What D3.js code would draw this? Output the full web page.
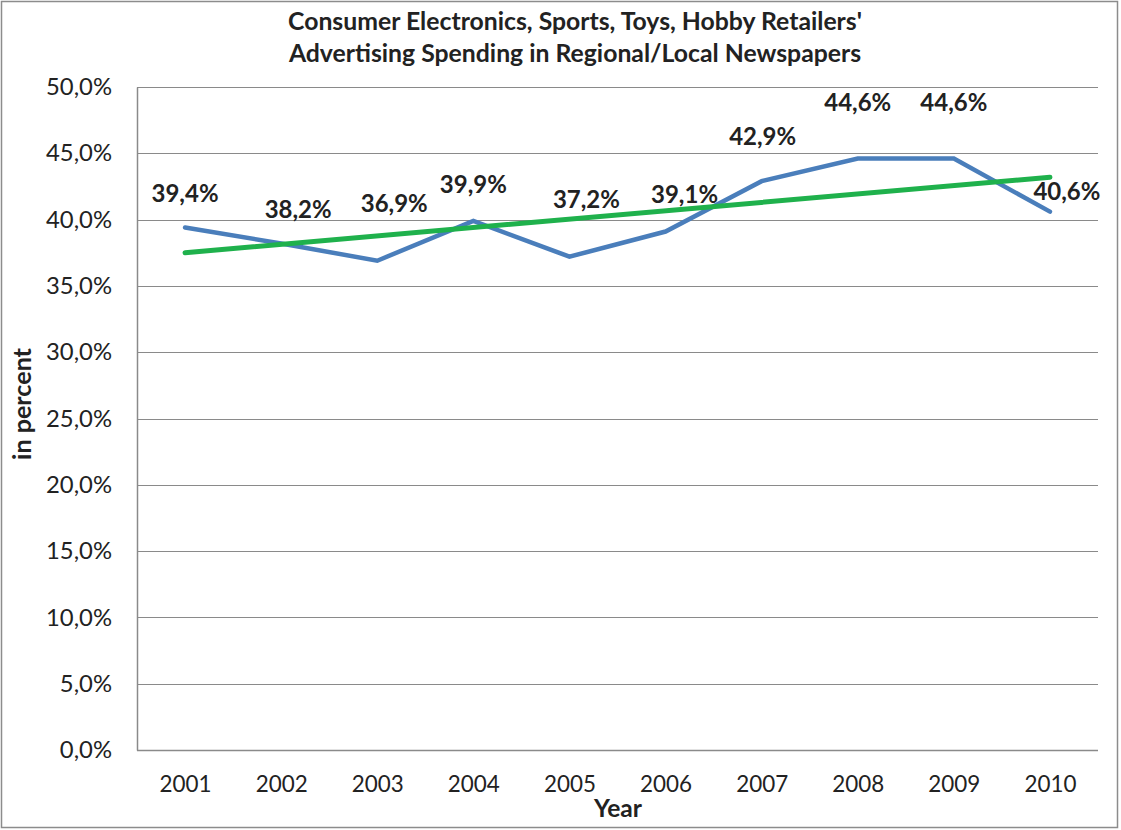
<!DOCTYPE html>
<html><head><meta charset="utf-8">
<script src="https://cdn.jsdelivr.net/npm/d3@7"></script>
<style>html,body{margin:0;padding:0;background:#fff;}svg{display:block;}</style>
</head><body>
<svg id="chart" width="1121" height="830"></svg>
<script>
const years = ["2001","2002","2003","2004","2005","2006","2007","2008","2009","2010"];
const shares = [39.4, 38.2, 36.9, 39.9, 37.2, 39.1, 42.9, 44.6, 44.6, 40.6];
const trendYears = ["2001","2010"];
const trendValues = [37.5, 43.2];
const yTicks = [0, 5, 10, 15, 20, 25, 30, 35, 40, 45, 50];
const titleLines = ["Consumer Electronics, Sports, Toys, Hobby Retailers'", "Advertising Spending in Regional/Local Newspapers"];

// label placement offsets (style, not data)
const labelOffsets = [[0,-26],[17,-25],[17,-49],[0,-28],[17,-49],[19,-29],[1,-36],[0,-48],[0,-48],[17,-12]];

const font = "Lato, 'Open Sans', sans-serif";
const svg = d3.select("#chart");
const M = {l:137, r:1098, t:87, b:750};
const x = d3.scalePoint().domain(years).range([M.l, M.r]).padding(0.5);
const y = d3.scaleLinear().domain([0,50]).range([M.b, M.t]);
const fmt = v => d3.format(".1f")(v).replace(".", ",") + "%";

// size a font so that a sample string reaches a target width
function fitSize(sample, target, weight) {
  const t = svg.append("text").attr("font-family",font).attr("font-weight",weight)
    .attr("font-size",100).text(sample);
  const w = t.node().getComputedTextLength();
  t.remove();
  return 100 * target / w;
}
const tickSize = fitSize("50,0%", 66, "normal");
const yearSize = fitSize("2001", 52, "normal");
const labelSize = fitSize("39,4%", 67, "bold");
const titleSize = fitSize(titleLines[0], 574, "bold");
const xTitleSize = fitSize("Year", 48, "bold");
const yTitleSize = fitSize("in percent", 112, "bold");

// outer border
svg.append("rect").attr("x",1.5).attr("y",1.5).attr("width",1116).attr("height",826)
  .attr("fill","none").attr("stroke","#8c8c8c").attr("stroke-width",1.5);

// gridlines
svg.append("g").selectAll("line").data(yTicks.filter(d=>d>0)).join("line")
  .attr("x1",M.l).attr("x2",M.r).attr("y1",d=>Math.round(y(d))+0.5).attr("y2",d=>Math.round(y(d))+0.5)
  .attr("stroke","#8a8a8a").attr("stroke-width",1.2);

// y axis
const yAxis = svg.append("g").attr("transform",`translate(${M.l},0)`)
  .call(d3.axisLeft(y).tickValues(yTicks).tickFormat(fmt).tickSize(0).tickPadding(25));
yAxis.select(".domain").attr("stroke","#8a8a8a").attr("stroke-width",1.5);
yAxis.selectAll("text").attr("font-family",font).attr("font-size",tickSize).attr("fill","#222");

// x axis
const xAxis = svg.append("g").attr("transform",`translate(0,${M.b})`)
  .call(d3.axisBottom(x).tickSize(0).tickPadding(24));
xAxis.select(".domain").attr("stroke","#8a8a8a").attr("stroke-width",1.5).attr("d",`M${M.l},0.5H${M.r}`);
xAxis.selectAll("text").attr("font-family",font).attr("font-size",yearSize).attr("fill","#222")
  .attr("dy",null).attr("y",42);

// data line
svg.append("path").datum(shares)
  .attr("fill","none").attr("stroke","#4a7ebb").attr("stroke-width",4.5).attr("stroke-linejoin","miter")
  .attr("stroke-linecap","round")
  .attr("d", d3.line().x((d,i)=>x(years[i])).y(d=>y(d)));

// trend line
svg.append("path").datum(trendValues)
  .attr("fill","none").attr("stroke","#1fb14c").attr("stroke-width",5).attr("stroke-linecap","round")
  .attr("d", d3.line().x((d,i)=>x(trendYears[i])).y(d=>y(d)));

// data labels
svg.append("g").selectAll("text").data(shares).join("text")
  .attr("x",(d,i)=>x(years[i])+labelOffsets[i][0])
  .attr("y",(d,i)=>y(d)+labelOffsets[i][1])
  .attr("text-anchor","middle").attr("font-family",font).attr("font-weight","bold")
  .attr("font-size",labelSize).attr("fill","#222").text(fmt);

// title
svg.append("g").selectAll("text").data(titleLines).join("text")
  .attr("x",575).attr("y",(d,i)=>30+i*32).attr("text-anchor","middle")
  .attr("font-family",font).attr("font-weight","bold").attr("font-size",titleSize).attr("fill","#222").text(d=>d);

// axis titles
svg.append("text").attr("x",618).attr("y",817).attr("text-anchor","middle")
  .attr("font-family",font).attr("font-weight","bold").attr("font-size",xTitleSize).attr("fill","#222").text("Year");
svg.append("text").attr("transform","translate(31,404) rotate(-90)").attr("text-anchor","middle")
  .attr("font-family",font).attr("font-weight","bold").attr("font-size",yTitleSize).attr("fill","#222").text("in percent");
</script>
</body></html>
